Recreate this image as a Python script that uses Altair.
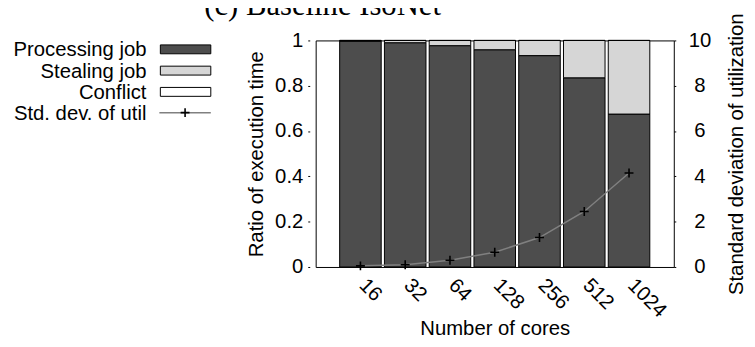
import altair as alt
import pandas as pd

# ---- data ----
cores = ["16", "32", "64", "128", "256", "512", "1024"]
processing = [0.997, 0.99, 0.977, 0.959, 0.933, 0.835, 0.675]
stealing = [0.003, 0.01, 0.023, 0.041, 0.067, 0.165, 0.325]
conflict = [0.0, 0.0, 0.0, 0.0, 0.0, 0.0, 0.0]
std_dev = [0.05, 0.1, 0.3, 0.65, 1.3, 2.45, 4.15]

components = ["Processing job", "Stealing job", "Conflict"]
comp_colors = ["#4d4d4d", "#d6d6d6", "#ffffff"]
std_label = "Std. dev. of util"
title_text = "(c) Baseline IsoNet"
left_ticks = [0, 0.2, 0.4, 0.6, 0.8, 1]
right_ticks = [0, 2, 4, 6, 8, 10]

rows = []
for k, (name, vals) in enumerate(zip(components, [processing, stealing, conflict])):
    for c, v in zip(cores, vals):
        rows.append({"cores": c, "component": name, "value": v, "ord": k})
bar_df = pd.DataFrame(rows)
std_df = pd.DataFrame({"cores": cores, "std": std_dev})

FONT = "Liberation Sans"
FS = 20.5

x_enc = alt.X(
    "cores:N",
    sort=cores,
    scale=alt.Scale(domain=cores, paddingInner=0.072, paddingOuter=0.536),
    axis=alt.Axis(
        title="Number of cores",
        labelAngle=45,
        labelAlign="left",
        labelBaseline="middle",
        labelPadding=15,
        labelOffset=2,
        ticks=False,
        domain=False,
        grid=False,
        labelOverlap=False,
        titleY=68,
        titleBaseline="alphabetic",
    ),
)

bars = alt.Chart(bar_df).mark_bar(stroke="black", strokeWidth=1).encode(
    x=x_enc,
    y=alt.Y(
        "value:Q",
        stack="zero",
        scale=alt.Scale(domain=[0, 1], nice=False),
        axis=alt.Axis(
            title="Ratio of execution time",
            orient="left",
            values=left_ticks,
            format="~g",
            tickSize=2,
            tickColor="black",
            offset=6,
            labelPadding=5,
            labelAlign="right",
            labelBaseline="middle",
            titleX=-54,
            titleY=114.5,
            titleAngle=-90,
            titleBaseline="middle",
            domain=False,
            grid=False,
        ),
    ),
    color=alt.Color(
        "component:N",
        scale=alt.Scale(domain=components, range=comp_colors),
        legend=None,
    ),
    order=alt.Order("ord:Q"),
)

y_std = alt.Y(
    "std:Q",
    scale=alt.Scale(domain=[0, 10], nice=False),
    axis=alt.Axis(
        title="Standard deviation of utilization",
        orient="right",
        values=right_ticks,
        tickSize=2,
        tickColor="black",
        labelPadding=24,
        labelAlign="center",
        labelBaseline="middle",
        titleX=63,
        titleY=114.5,
        titleAngle=-90,
        titleBaseline="middle",
        domain=False,
        grid=False,
    ),
)

CROSS = "M-1,0H1M0,-1V1"

line = alt.Chart(std_df).mark_line(color="#808080", strokeWidth=1.5).encode(x=x_enc, y=y_std)
pts = alt.Chart(std_df).mark_point(
    shape=CROSS, size=81, filled=False, color="black", strokeWidth=1.6, opacity=1
).encode(x=x_enc, y=y_std)
std_layer = alt.layer(line, pts)


def one(label):
    return pd.DataFrame({"label": [label]})


title_layer = alt.Chart(one(title_text)).mark_text(
    font="Liberation Serif", fontSize=31, align="center", baseline="alphabetic", color="black"
).encode(x=alt.value(7), y=alt.value(-26), text="label:N")

# manual key (text right-aligned, sample on the right, as in gnuplot)
row_y = [9, 30.5, 52, 73]
legend_layers = []
all_labels = components + [std_label]
for lbl, yy in zip(all_labels, row_y):
    legend_layers.append(
        alt.Chart(one(lbl)).mark_text(
            font=FONT, fontSize=FS, align="right", baseline="middle", color="black"
        ).encode(x=alt.value(-171), y=alt.value(yy + 1), text="label:N")
    )
for lbl, col, yy in zip(components, comp_colors, row_y[:3]):
    legend_layers.append(
        alt.Chart(one(lbl)).mark_rect(stroke="black", strokeWidth=1, fill=col).encode(
            x=alt.value(-157), x2=alt.value(-106), y=alt.value(yy - 4.5), y2=alt.value(yy + 4.5)
        )
    )
legend_layers.append(
    alt.Chart(one(std_label)).mark_rule(color="#808080", strokeWidth=1.5).encode(
        x=alt.value(-158), x2=alt.value(-106), y=alt.value(row_y[3])
    )
)
legend_layers.append(
    alt.Chart(one(std_label)).mark_point(
        shape=CROSS, size=81, filled=False, color="black", strokeWidth=1.6, opacity=1
    ).encode(x=alt.value(-132), y=alt.value(row_y[3]))
)

chart = (
    alt.layer(bars, std_layer, title_layer, *legend_layers)
    .resolve_scale(y="independent")
    .properties(
        width=362,
        height=229,
        padding={"left": 311, "top": 31, "right": 74, "bottom": 71},
        autosize=alt.AutoSizeParams(type="none"),
        background="white",
    )
    .configure_view(stroke="black", strokeWidth=1)
    .configure_axis(
        labelFont=FONT,
        labelFontSize=FS,
        labelColor="black",
        titleFont=FONT,
        titleFontSize=FS,
        titleFontWeight="normal",
        titleColor="black",
    )
)

chart.save("out.html", embed_options={"renderer": "svg", "actions": False})
